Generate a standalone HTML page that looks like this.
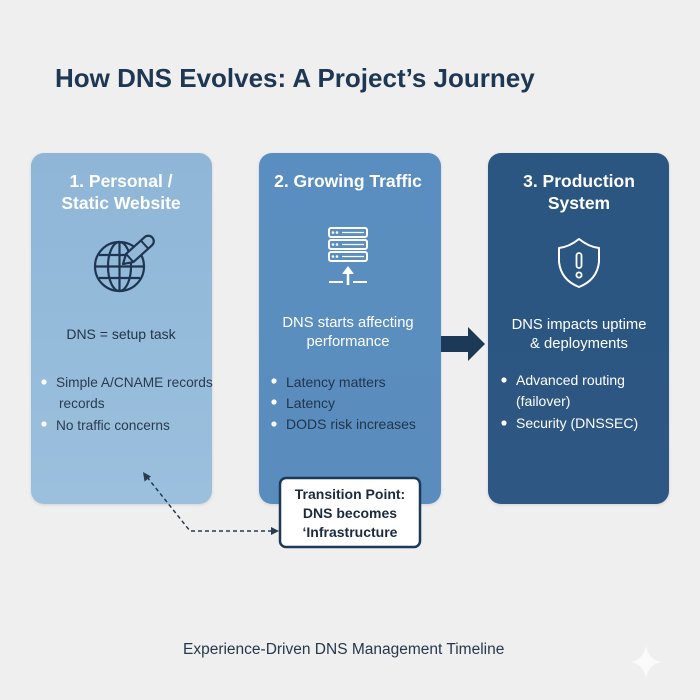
<!DOCTYPE html>
<html><head><meta charset="utf-8"><style>
html,body{margin:0;padding:0;background:#efefef;}
svg{display:block;}
text{font-family:"Liberation Sans",Arial,sans-serif;}
</style></head><body>
<svg width="700" height="700" viewBox="0 0 700 700" xmlns="http://www.w3.org/2000/svg">
<defs>
<linearGradient id="g1" x1="0" y1="0" x2="0" y2="1"><stop offset="0" stop-color="#8fb6d7"/><stop offset="1" stop-color="#9bc0de"/></linearGradient>
<linearGradient id="g2" x1="0" y1="0" x2="0" y2="1"><stop offset="0" stop-color="#5a8ec0"/><stop offset="1" stop-color="#5a8dbd"/></linearGradient>
<linearGradient id="g3" x1="0" y1="0" x2="0" y2="1"><stop offset="0" stop-color="#2c5681"/><stop offset="1" stop-color="#2d5883"/></linearGradient>
<filter id="sh" x="-10%" y="-10%" width="120%" height="120%"><feDropShadow dx="0" dy="1" stdDeviation="1.5" flood-color="#000" flood-opacity="0.12"/></filter>
</defs>
<rect width="700" height="700" fill="#efefef"/>
<text x="55" y="87" font-size="26" font-weight="bold" fill="#1e3753">How DNS Evolves: A Project’s Journey</text>

<!-- cards -->
<rect x="31" y="153" width="181" height="351" rx="13" fill="url(#g1)" filter="url(#sh)"/>
<rect x="259" y="153" width="182" height="351" rx="13" fill="url(#g2)" filter="url(#sh)"/>
<rect x="488" y="153" width="181" height="351" rx="13" fill="url(#g3)" filter="url(#sh)"/>

<!-- arrow between 2 and 3 -->
<path d="M441 336 H468 V327 L485 344 L468 361 V352 H441 Z" fill="#1c3a58"/>

<!-- card 1 -->
<text x="121" y="187" font-size="17.5" font-weight="bold" fill="#fff" text-anchor="middle">1. Personal /</text>
<text x="121" y="209" font-size="17.5" font-weight="bold" fill="#fff" text-anchor="middle">Static Website</text>
<g fill="none" stroke="#1f3652" stroke-width="2.2">
<circle cx="119.5" cy="266.5" r="24.5"/>
<ellipse cx="119.5" cy="266.5" rx="11.5" ry="24.5"/>
<line x1="119.5" y1="242" x2="119.5" y2="291"/>
<line x1="95" y1="266.5" x2="144" y2="266.5"/>
<line x1="99" y1="255" x2="140" y2="255"/>
<line x1="99" y1="278" x2="140" y2="278"/>
</g>
<g transform="translate(123 264) rotate(-42)">
<path d="M0 0 L9 -5.5 H34 a5.5 5.5 0 0 1 0 11 H9 Z" fill="#93b9d9" stroke="#1f3652" stroke-width="2.2" stroke-linejoin="round"/>
<line x1="9" y1="-5.5" x2="9" y2="5.5" stroke="#1f3652" stroke-width="2"/>
<line x1="29" y1="-5.5" x2="29" y2="5.5" stroke="#1f3652" stroke-width="2"/>
</g>
<text x="121" y="339" font-size="14" fill="#23354a" text-anchor="middle">DNS = setup task</text>
<g font-size="13.7" fill="#2a3b4f">
<circle cx="44" cy="382" r="2.6" fill="#fff"/>
<text x="56" y="387">Simple A/CNAME records</text>
<text x="59" y="408">records</text>
<circle cx="44" cy="424" r="2.6" fill="#fff"/>
<text x="56" y="430">No traffic concerns</text>
</g>

<!-- card 2 -->
<text x="348" y="187" font-size="17.5" font-weight="bold" fill="#fff" text-anchor="middle">2. Growing Traffic</text>
<g fill="none" stroke="#fff" stroke-width="2">
<rect x="329" y="228" width="38" height="9" rx="2"/>
<rect x="329" y="240" width="38" height="9" rx="2"/>
<rect x="329" y="252" width="38" height="9" rx="2"/>
<line x1="342" y1="232.5" x2="364" y2="232.5" stroke-width="1.3"/>
<line x1="342" y1="244.5" x2="364" y2="244.5" stroke-width="1.3"/>
<line x1="342" y1="256.5" x2="364" y2="256.5" stroke-width="1.3"/>
<line x1="348" y1="285" x2="348" y2="272" stroke-width="2.5"/>
<line x1="329" y1="282" x2="343" y2="282"/>
<line x1="353" y1="282" x2="367" y2="282"/>
</g>
<path d="M348 266 L354 274 H342 Z" fill="#fff"/>
<g fill="#fff"><circle cx="333" cy="232.5" r="1.3"/><circle cx="337" cy="232.5" r="1.3"/><circle cx="333" cy="244.5" r="1.3"/><circle cx="337" cy="244.5" r="1.3"/><circle cx="333" cy="256.5" r="1.3"/><circle cx="337" cy="256.5" r="1.3"/></g>
<text x="348" y="327" font-size="14.8" fill="#fff" text-anchor="middle">DNS starts affecting</text>
<text x="348" y="346" font-size="14.8" fill="#fff" text-anchor="middle">performance</text>
<g font-size="14" fill="#22354b">
<circle cx="274" cy="381" r="2.6" fill="#fff"/>
<text x="286" y="387">Latency matters</text>
<circle cx="274" cy="402" r="2.6" fill="#fff"/>
<text x="286" y="408">Latency</text>
<circle cx="274" cy="424" r="2.6" fill="#fff"/>
<text x="286" y="429">DODS risk increases</text>
</g>

<!-- card 3 -->
<text x="579" y="187" font-size="17.5" font-weight="bold" fill="#fff" text-anchor="middle">3. Production</text>
<text x="579" y="209" font-size="17.5" font-weight="bold" fill="#fff" text-anchor="middle">System</text>
<path d="M579 239 Q589 247 599 248 V262 Q597 280 579 287 Q561 280 559 262 V248 Q569 247 579 239 Z" fill="none" stroke="#fff" stroke-width="2" stroke-linejoin="round"/>
<rect x="576.5" y="253" width="5" height="15" rx="2.5" fill="none" stroke="#fff" stroke-width="1.8"/>
<circle cx="579" cy="275" r="2.6" fill="none" stroke="#fff" stroke-width="1.8"/>
<text x="579" y="329" font-size="14.8" fill="#fff" text-anchor="middle">DNS impacts uptime</text>
<text x="579" y="348" font-size="14.8" fill="#fff" text-anchor="middle">&amp; deployments</text>
<g font-size="14" fill="#fff">
<circle cx="504" cy="380" r="2.6"/>
<text x="516" y="385">Advanced routing</text>
<text x="516" y="406">(failover)</text>
<circle cx="504" cy="423" r="2.6"/>
<text x="516" y="428">Security (DNSSEC)</text>
</g>

<!-- dotted connector -->
<g stroke="#2a3b4f" stroke-width="1.5" fill="none" stroke-dasharray="4 3">
<polyline points="272,531 190,531 147,477"/>
</g>
<path d="M279 531 L271 527 V535 Z" fill="#2a3b4f"/>
<path d="M143 472 L144.5 481.5 L151 476.5 Z" fill="#2a3b4f"/>

<!-- transition box -->
<rect x="280" y="478" width="140" height="69" rx="6" fill="#fff" stroke="#1c3a58" stroke-width="2.5"/>
<text x="350" y="499" font-size="14" font-weight="bold" fill="#1b2b3d" text-anchor="middle">Transition Point:</text>
<text x="350" y="518" font-size="14" font-weight="bold" fill="#1b2b3d" text-anchor="middle">DNS becomes</text>
<text x="350" y="537" font-size="14" font-weight="bold" fill="#1b2b3d" text-anchor="middle">‘Infrastructure</text>

<!-- footer -->
<text x="183" y="654" font-size="15.5" fill="#26384c">Experience-Driven DNS Management Timeline</text>
<path d="M646 645 Q648 660 662 662 Q648 664 646 679 Q644 664 630 662 Q644 660 646 645 Z" fill="#fafafa"/>
</svg>
</body></html>
